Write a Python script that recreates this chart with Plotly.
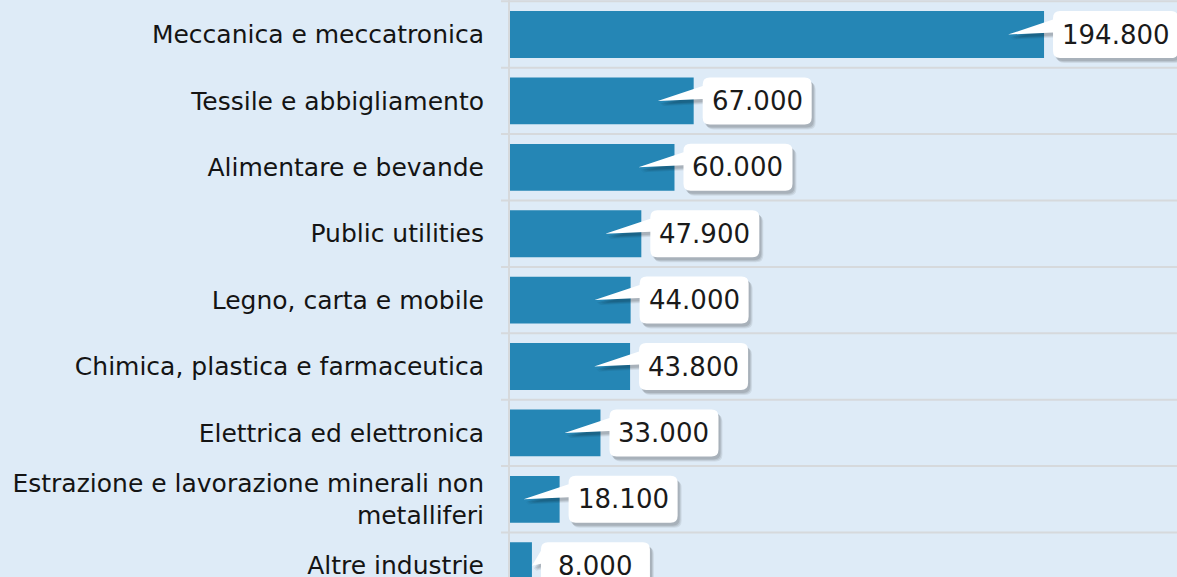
import plotly.graph_objects as go

categories = [
    "Meccanica e meccatronica",
    "Tessile e abbigliamento",
    "Alimentare e bevande",
    "Public utilities",
    "Legno, carta e mobile",
    "Chimica, plastica e farmaceutica",
    "Elettrica ed elettronica",
    "Estrazione e lavorazione minerali non<br>metalliferi",
    "Altre industrie",
]
values = [194800, 67000, 60000, 47900, 44000, 43800, 33000, 18100, 8000]
value_labels = [f"{v:,}".replace(",", ".") for v in values]

BG = "#DEEBF7"
BAR = "#2586B5"
GRID = "#D6D9DC"
FONT = "DejaVu Sans"

W, H = 1177, 577
ML = 510
X_MAX = 243300
PX_PER_UNIT = (W - ML) / X_MAX
Y_RANGE = [8.17, -0.52]


def rounded_path(L, R, T, B, r, tip_dx, dx=0.0, dy=0.0):
    def p(x, y):
        return f"{x + dx:.2f},{y + dy:.2f}"
    return (
        f"M {p(L + r, T)} L {p(R - r, T)} Q {p(R, T)} {p(R, T - r)} "
        f"L {p(R, B + r)} Q {p(R, B)} {p(R - r, B)} "
        f"L {p(L + r, B)} Q {p(L, B)} {p(L, B + r)} "
        f"L {p(L, 2)} L {p(tip_dx, 0)} L {p(L, 15)} "
        f"L {p(L, T - r)} Q {p(L, T)} {p(L + r, T)} Z"
    )


fig = go.Figure(
    go.Bar(
        x=values,
        y=list(range(len(categories))),
        orientation="h",
        width=0.705,
        marker=dict(color=BAR, line=dict(width=0)),
        hoverinfo="skip",
    )
)

shapes = []
# horizontal gridlines between categories (with small outside tick stubs)
for k in range(-1, len(categories)):
    shapes.append(dict(
        type="line", xref="paper", yref="y",
        x0=-9 / (W - ML), x1=1, y0=k + 0.5, y1=k + 0.5,
        line=dict(color=GRID, width=2), layer="below",
    ))

annotations = []
for i, (v, lab) in enumerate(zip(values, value_labels)):
    bar_px = v * PX_PER_UNIT
    boxw = 109 if len(lab) <= 6 else 125
    L = 9
    R = L + boxw
    T, B = 23.5, -23.5
    tip_dx = -36 if bar_px > 45 else 0
    # shadow layers
    for (sx, sy, op) in [(4, -5, 0.07), (3, -4, 0.09), (2, -3, 0.10)]:
        shapes.append(dict(
            type="path", xref="x", yref="y",
            xsizemode="pixel", ysizemode="pixel", xanchor=v, yanchor=i,
            path=rounded_path(L, R, T, B, 7, tip_dx, sx, sy),
            fillcolor=f"rgba(0,0,0,{op})", line=dict(width=0), layer="above",
        ))
    shapes.append(dict(
        type="path", xref="x", yref="y",
        xsizemode="pixel", ysizemode="pixel", xanchor=v, yanchor=i,
        path=rounded_path(L, R, T, B, 7, tip_dx),
        fillcolor="white", line=dict(width=0), layer="above",
    ))
    annotations.append(dict(
        x=v, y=i, xref="x", yref="y", text=lab, showarrow=False,
        xanchor="center", yanchor="middle", xshift=L + boxw / 2, yshift=0,
        font=dict(family=FONT, size=26, color="#1a1a1a"),
    ))

fig.update_layout(
    width=W, height=H,
    margin=dict(l=ML, r=0, t=0, b=0, pad=0, autoexpand=False),
    paper_bgcolor=BG, plot_bgcolor=BG,
    showlegend=False,
    shapes=shapes,
    annotations=annotations,
    xaxis=dict(range=[0, X_MAX], showgrid=False, zeroline=False,
               showticklabels=False, showline=False, ticks="",
               automargin=False, fixedrange=True),
    yaxis=dict(range=Y_RANGE, tickvals=list(range(len(categories))),
               ticktext=categories, showgrid=False, zeroline=False,
               showline=True, linecolor=GRID, linewidth=2, ticks="",
               ticklabelstandoff=19, ticklabeloverflow="allow",
               automargin=False, fixedrange=True,
               tickfont=dict(family=FONT, size=25, color="#141414")),
)

fig.write_html(
    "out.html",
    config={"displayModeBar": False, "staticPlot": True},
    post_script="document.body.style.margin='0px';document.body.style.overflow='hidden';",
)
